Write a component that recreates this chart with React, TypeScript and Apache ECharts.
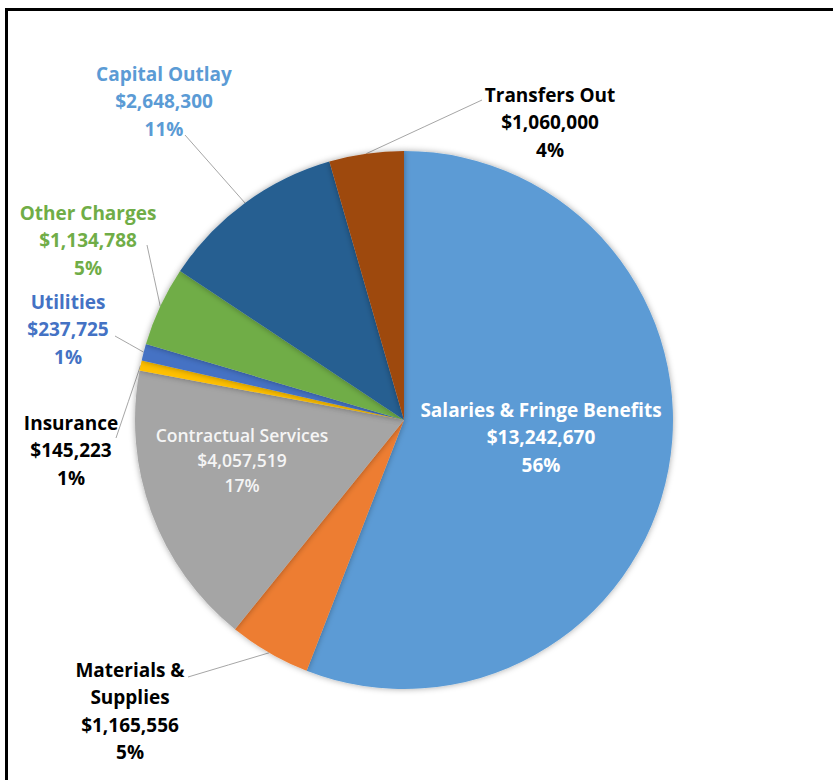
import React, { useEffect, useRef } from "react";
import * as echarts from "echarts";

const categories = [
  "Salaries & Fringe Benefits",
  "Materials & Supplies",
  "Contractual Services",
  "Insurance",
  "Utilities",
  "Other Charges",
  "Capital Outlay",
  "Transfers Out",
];
const labelNames = [
  "Salaries & Fringe Benefits",
  "Materials &\nSupplies",
  "Contractual Services",
  "Insurance",
  "Utilities",
  "Other Charges",
  "Capital Outlay",
  "Transfers Out",
];
const values = [13242670, 1165556, 4057519, 145223, 237725, 1134788, 2648300, 1060000];
const percents = ["56%", "5%", "17%", "1%", "1%", "5%", "11%", "4%"];
const colors = ["#5B9BD5", "#ED7D31", "#A5A5A5", "#FFC000", "#4472C4", "#70AD47", "#255E91", "#9E480E"];
const labelColors = ["#FFFFFF", "#000000", "#F5F5F5", "#000000", "#4472C4", "#70AD47", "#5B9BD5", "#000000"];
const insideLabel = [true, false, true, false, false, false, false, false];

// label block centres and leader-line end points (layout only)
const labelCenters: [number, number][] = [
  [541, 437], [130, 711], [242, 460], [71, 450], [68, 329], [88, 240], [164, 101], [550, 122],
];
const lineEnds: ([number, number] | null)[] = [
  null, [188, 677], null, [116, 438], [115, 336], [147, 245], [185, 135], [482, 100],
];

const fmt = (v: number) => "$" + v.toLocaleString("en-US");

export default function App() {
  const ref = useRef<HTMLDivElement>(null);
  useEffect(() => {
    const chart = echarts.init(ref.current!, null, { renderer: "svg" });
    chart.setOption({
      animation: false,
      backgroundColor: "#FFFFFF",
      series: [
        {
          type: "pie",
          center: [404, 420],
          radius: 269,
          startAngle: 90,
          clockwise: true,
          avoidLabelOverlap: false,
          itemStyle: {
            shadowBlur: 6,
            shadowColor: "rgba(0,0,0,0.35)",
          },
          labelLine: {
            show: true,
            length: 10,
            length2: 10,
            lineStyle: { color: "#A6A6A6", width: 1 },
          },
          data: categories.map((c, i) => ({
            name: c,
            value: values[i],
            itemStyle: { color: colors[i] },
            label: {
              show: true,
              position: insideLabel[i] ? "inside" : "outside",
              formatter: `${labelNames[i]}\n${fmt(values[i])}\n${percents[i]}`,
              color: labelColors[i],
              fontFamily: "Open Sans",
              fontWeight: i === 2 ? 600 : "bold",
              fontSize: i === 2 ? 17.5 : 19,
              lineHeight: i === 2 ? 25 : 27.5,
              align: "center",
            },
            labelLine: { show: !insideLabel[i] },
          })),
          labelLayout: (params: any) => {
            const i = params.dataIndex;
            const c = labelCenters[i];
            const out: any = { x: c[0], y: c[1], align: "center", verticalAlign: "middle" };
            const e = lineEnds[i];
            if (e && params.labelLinePoints) {
              const p0 = params.labelLinePoints[0];
              out.labelLinePoints = [p0, [(p0[0] + e[0]) / 2, (p0[1] + e[1]) / 2], e];
            }
            return out;
          },
        },
      ],
    });
    return () => chart.dispose();
  }, []);
  return (
    <div style={{ position: "fixed", left: 0, top: 0, width: 833, height: 780, background: "#fff" }}>
      <div ref={ref} style={{ position: "absolute", left: 0, top: 0, width: 833, height: 780 }} />
      <div
        style={{
          position: "absolute",
          left: 5,
          top: 8,
          width: 840,
          height: 800,
          borderTop: "3px solid #000",
          borderLeft: "3px solid #000",
          pointerEvents: "none",
        }}
      />
    </div>
  );
}
